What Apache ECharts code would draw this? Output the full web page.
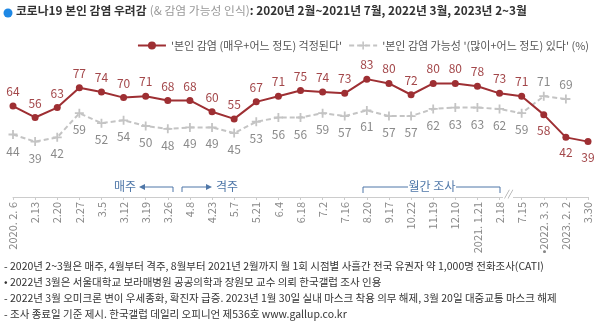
<!DOCTYPE html>
<html><head><meta charset="utf-8">
<script src="https://cdn.jsdelivr.net/npm/echarts@6/dist/echarts.min.js"></script>
<style>html,body{margin:0;padding:0;background:#fff}#c{width:600px;height:326px}</style>
</head><body><div id="c"></div>
<script>
const categories = ['2020. 2. 6','2.13','2.20','2.27','3.5','3.12','3.19','3.26','4.8','4.23','5.7','5.21','6.4','6.18','7.2','7.16','8.20','9.17','10.22','11.19','12.10','2021. 1.21','2.18','7.15','•2022. 3. 3','2023. 2. 2','3.30'];
const worryName = "'본인 감염 (매우+어느 정도) 걱정된다'";
const possName = "'본인 감염 가능성 '(많이+어느 정도) 있다' (%)";
const worry = [64,56,63,77,74,70,71,68,68,60,55,67,71,75,74,73,83,80,72,80,80,78,73,71,58,42,39];
const possibility = [44,39,42,59,52,54,50,48,49,49,45,53,56,56,59,57,61,57,57,62,63,63,62,59,71,69,null];
const notes = [
 '- 2020년 2~3월은 매주, 4월부터 격주, 8월부터 2021년 2월까지 월 1회 시점별 사흘간 전국 유권자 약 1,000명 전화조사(CATI)',
 '• 2022년 3월은 서울대학교 보라매병원 공공의학과 장원모 교수 의뢰 한국갤럽 조사 인용',
 '- 2022년 3월 오미크론 변이 우세종화, 확진자 급증. 2023년 1월 30일 실내 마스크 착용 의무 해제, 3월 20일 대중교통 마스크 해제',
 '- 조사 종료일 기준 제시. 한국갤럽 데일리 오피니언 제536호 www.gallup.co.kr'
];
const FONT = '"Noto Sans CJK KR","Noto Sans",sans-serif';
const RED = '#9e2f33', GRAY = '#c4c4c4', BLUE = '#4f77a8';
const plus = 'path://M4,0H6V4H10V6H6V10H4V6H0V4H4Z';
const FLIP_FROM = 24; // from 2022 on, labels swap sides

const chart = echarts.init(document.getElementById('c'), null, {renderer:'canvas'});
const g = [];
g.push({type:'circle', shape:{cx:8,cy:13,r:4.5}, style:{fill:'#1e88e5'}});
g.push({type:'text', left:16, top:5, style:{rich:{
  a:{fontFamily:FONT,fontSize:11.8,fontWeight:'bold',fill:'#333'},
  b:{fontFamily:FONT,fontSize:11.8,fill:'#999'},
  c:{fontFamily:FONT,fontSize:11.8,fontWeight:'bold',fill:'#333'}},
  text:'{a|코로나19 본인 감염 우려감} {b|(& 감염 가능성 인식)}{c|: 2020년 2월~2021년 7월, 2022년 3월, 2023년 2~3월}'}});
const ann = (pts)=>g.push({type:'polyline', shape:{points:pts}, style:{stroke:BLUE,lineWidth:1,fill:null}, silent:true});
const txt = (x,y,t)=>g.push({type:'text', x:x, y:y, style:{text:t,fontFamily:FONT,fontSize:12,fill:BLUE,align:'center',verticalAlign:'middle'}});
txt(125,186,'매주');
ann([[144,187],[173,187],[173,192]]);
g.push({type:'polygon', shape:{points:[[139,187],[145,184],[145,190]]}, style:{fill:BLUE}});
ann([[182,192],[182,187],[207,187]]);
g.push({type:'polygon', shape:{points:[[212,187],[206,184],[206,190]]}, style:{fill:BLUE}});
txt(227,186,'격주');
ann([[363,193],[363,187],[408,187]]);
ann([[456,187],[500,187],[500,193]]);
txt(432,186,'월간 조사');
g.push({type:'rect', shape:{x:503,y:193,width:10,height:6}, style:{fill:'#fff'}, z:100});
g.push({type:'text', x:508, y:194, z:101, style:{text:'//',fontFamily:FONT,fontSize:9,fontStyle:'italic',fill:'#999',align:'center',verticalAlign:'middle'}});
notes.forEach((t,i)=>g.push({type:'text', left:4, top:261+i*16, style:{text:t,fontFamily:FONT,fontSize:10.5,fill:'#333'}}));

const worryData = worry.map((v,i)=> i>=FLIP_FROM ? {value:v, label:{position:'bottom', distance:6}} : v);
const possData = possibility.map((v,i)=> i>=FLIP_FROM && v!=null ? {value:v, label:{position:'top', distance:4}} : v);

chart.setOption({
  animation:false,
  textStyle:{fontFamily:FONT},
  graphic:g,
  legend:{right:6, top:35, itemWidth:28, itemHeight:10, itemGap:6,
    textStyle:{fontFamily:FONT,fontSize:11,color:'#555'},
    data:[worryName, possName]},
  grid:{left:13, right:12, top:55, bottom:129},
  xAxis:{type:'category', data:categories, boundaryGap:false,
    axisLine:{lineStyle:{color:'#ccc'}},
    axisTick:{show:true, length:3, lineStyle:{color:'#ccc'}},
    axisLabel:{rotate:90, fontSize:11, color:'#888', fontFamily:FONT, margin:5, interval:0}},
  yAxis:{type:'value', min:0, max:100, show:false, splitLine:{show:false}},
  series:[
    {name:possName, type:'line', data:possData, symbol:plus, symbolSize:9,
     lineStyle:{color:GRAY,width:2,type:[5,3]}, itemStyle:{color:GRAY},
     label:{show:true, position:'bottom', distance:6, fontSize:12, color:'#8a8a8a', fontFamily:FONT}},
    {name:worryName, type:'line', data:worryData, symbol:'circle', symbolSize:7,
     lineStyle:{color:RED,width:2}, itemStyle:{color:RED},
     label:{show:true, position:'top', distance:5, fontSize:12, color:'#a3474a', fontFamily:FONT}}
  ]
});
</script></body></html>
